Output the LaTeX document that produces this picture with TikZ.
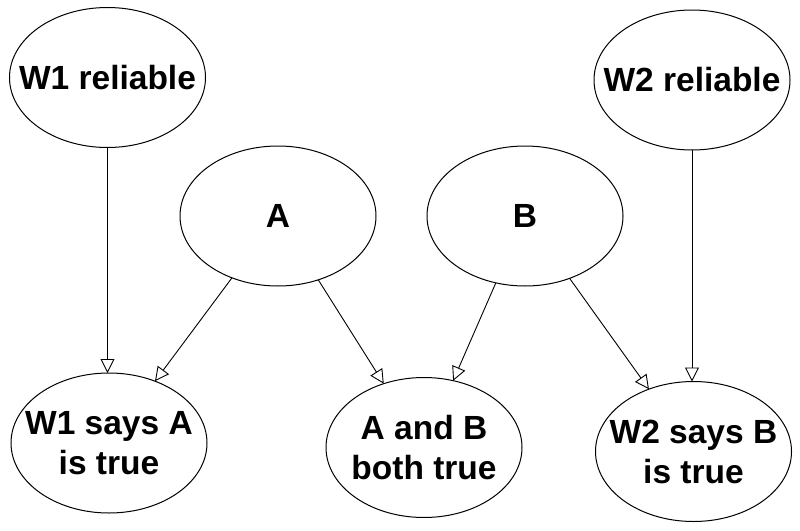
\documentclass[tikz,border=0pt]{standalone}
\usepackage{fontspec}
\setmainfont{Liberation Sans}
\usetikzlibrary{shapes.geometric,arrows.meta}
\begin{document}
\begin{tikzpicture}[x=1pt,y=-1pt,
  bubble/.style={draw=black, line width=1pt, ellipse, minimum width=196pt, minimum height=140pt,
    inner sep=0pt, outer sep=0pt},
  lbl/.style={inner sep=0pt, align=center, font=\fontsize{33.5}{40}\selectfont\bfseries},
  link/.style={draw=black, line width=0.9pt, -{Triangle[open, length=14pt, width=14pt]}}]
\useasboundingbox (0,0) rectangle (800,530);
\node[bubble] (w1r) at (107.5,77.5) {};
\node[bubble] (w2r) at (692,80) {};
\node[bubble] (a) at (278,216) {};
\node[bubble] (b) at (525,216) {};
\node[bubble] (w1a) at (109,443) {};
\node[bubble] (ab) at (424,447.5) {};
\node[bubble] (w2b) at (693.5,451.5) {};
\node[lbl] (tw1r) at (w1r) {W1 reliable};
\node[lbl] (tw2r) at (w2r) {W2 reliable};
\node[lbl] (ta) at (a) {A};
\node[lbl] (tb) at (b) {B};
\node[lbl] (tw1a) at (w1a) {W1 says A\\is true};
\node[lbl] (tab) at (ab) {A and B\\both true};
\node[lbl] (tw2b) at (w2b) {W2 says B\\is true};
\draw[link] (w1r) -- (w1r |- w1a.north);
\draw[link] (w2r) -- (w2r |- w2b.north);
\draw[link] (a) -- (w1a);
\draw[link] (a) -- (ab);
\draw[link] (b) -- (ab);
\draw[link] (b) -- (w2b);
\end{tikzpicture}
\end{document}
